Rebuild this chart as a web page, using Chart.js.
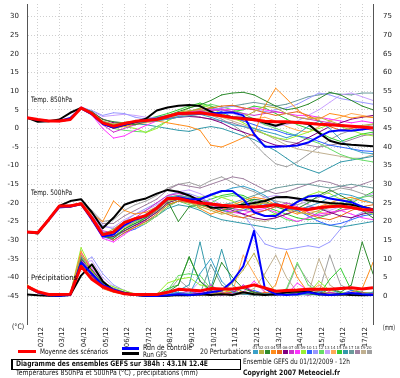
<!DOCTYPE html>
<html><head><meta charset="utf-8">
<script src="https://cdn.jsdelivr.net/npm/chart.js@4.4.1/dist/chart.umd.min.js"></script>
<style>
html,body{margin:0;padding:0;background:#fff;}
#wrap{position:relative;width:400px;height:378px;overflow:hidden;font-family:'DejaVu Sans',sans-serif;color:#000;}
canvas{position:absolute;left:0;top:0;}
.t{position:absolute;white-space:nowrap;font-size:7.5px;line-height:8px;transform-origin:0 50%;color:#111;}
.b{font-weight:bold;}
.sw{position:absolute;width:5px;height:4px;top:350px;}
.sn{position:absolute;font-size:4px;line-height:4px;top:345.5px;color:#333;white-space:nowrap;}
</style></head><body>
<div id="wrap">
<canvas id="c" width="400" height="350"></canvas>
<div class="t" style="left:31px;top:96px" data-w="41">Temp. 850hPa</div>
<div class="t" style="left:31px;top:188.5px" data-w="41">Temp. 500hPa</div>
<div class="t" style="left:31px;top:274px" data-w="46">Précipitations</div>
<div class="t" style="left:12px;top:323px" data-w="12">(°C)</div>
<div class="t" style="left:383px;top:324px" data-w="12">(mm)</div>
<div style="position:absolute;left:18px;top:350px;width:18px;height:3px;background:#f00"></div>
<div class="t" style="left:40px;top:347.5px" data-w="68">Moyenne des scénarios</div>
<div style="position:absolute;left:122px;top:347px;width:17px;height:3px;background:#00f"></div>
<div style="position:absolute;left:122px;top:352px;width:17px;height:3px;background:#000"></div>
<div class="t" style="left:143px;top:344px" data-w="49">Run de contrôle</div>
<div class="t" style="left:143px;top:351px" data-w="24">Run GFS</div>
<div class="t" style="left:200px;top:347.5px" data-w="51">20 Perturbations</div>
<div id="sw"></div>
<div style="position:absolute;left:11px;top:359px;width:227px;height:9px;border:1px solid #000;border-width:1px 1px 1px 2px"></div>
<div class="t b" style="left:16px;top:360px" data-w="192">Diagramme des ensembles GEFS sur 384h : 43.1N 12.4E</div>
<div class="t" style="left:16px;top:369px" data-w="182">Températures 850hPa et 500hPa (°C) , précipitations (mm)</div>
<div class="t" style="left:243px;top:358px" data-w="107">Ensemble GEFS du 01/12/2009 - 12h</div>
<div class="t b" style="left:243px;top:369px" data-w="97">Copyright 2007 Meteociel.fr</div>
</div>
<script>
// ---- DATA ----
const hours = [0,12,24,36,48,60,72,84,96,108,120,132,144,156,168,180,192,204,216,228,240,252,264,276,288,300,312,324,336,348,360,372,384];
const dayLabels = ['02/12','03/12','04/12','05/12','06/12','07/12','08/12','09/12','10/12','11/12','12/12','13/12','14/12','15/12','16/12','17/12'];
const leftTicks = [-45,-40,-35,-30,-25,-20,-15,-10,-5,0,5,10,15,20,25,30];
const rightTicks = [0,5,10,15,20,25,30,35,40,45,50,55,60,65,70,75];
const memberNames = ['01','02','03','04','05','06','07','08','09','10','11','12','13','14','15','16','17','18','19','20'];
const memberColors = ['#3aa0c8','#b8b040','#2e8b2e','#ff8c1a','#e86a1a','#800080','#cc33cc','#ff33ff','#99ee33','#3366ff','#9999ff','#66dd66','#c8a0ff','#ffaa55','#33cc33','#3399aa','#6a9a9a','#a080a0','#c0b090','#a0a0a0'];

// 850 hPa temperature (°C)
const t850Mean    = [2.9,2.4,2.0,2.0,2.4,5.5,4.0,1.5, 0.6,1.3,1.9,2.1,2.4,3.2,4.0,4.1,4.2,3.8,3.4,2.9,2.6,2.3,1.9,1.8,1.8,1.6,1.4,1.1,1.0,0.8,0.6,0.4,0.1];
const t850Control = [2.9,2.3,2.0,2.0,2.8,5.4,3.8,1.2, 0.2,1.0,1.8,2.2,2.6,3.3,3.9,4.0,4.0,4.0,4.2,4.3,3.5,-1.5,-4.9,-4.9,-4.8,-4.6,-3.8,-2.2,-0.8,-0.5,-0.6,-0.3,0.2];
const t850Gfs     = [2.9,1.8,1.9,2.4,4.2,5.5,4.0,1.4, 0.3,1.0,1.7,2.6,4.8,5.6,6.1,6.3,6.0,4.5,3.5,3.0,2.8,2.5,1.5,0.7,1.6,1.7,1.2,-1.2,-3.3,-4.1,-4.4,-4.6,-4.8];
const t850Members = [
 [2.9,2.4,2.0,1.9,2.6,5.4,4.2,1.8, 0.8,1.2,1.5,1.8,2.0,2.5,3.0,3.4,3.8,3.0,2.0,1.0,0.5,0.0,-0.8,-1.5,-2.5,-1.5,0.5,2.0,0.0,-3.0,-5.5,-6.5,-6.8],
 [2.9,2.3,2.1,2.0,2.4,5.3,4.3,2.0, 1.2,1.6,2.0,2.4,2.8,3.6,4.3,4.8,5.0,4.5,3.5,2.8,3.0,4.5,6.0,5.5,4.0,3.0,2.5,3.0,2.0,1.0,0.5,0.8,1.2],
 [2.9,2.3,2.0,2.1,2.6,5.6,4.5,2.4, 1.8,1.5,1.0,1.8,2.5,3.5,4.5,5.5,6.3,7.5,9.0,9.5,9.7,9.0,7.5,6.0,5.0,5.5,6.5,8.0,9.7,9.0,7.5,6.0,5.0],
 [2.9,2.3,2.0,2.0,2.4,5.4,4.0,1.5, 0.2,0.6,1.3,1.8,2.0,1.5,1.0,0.5,-0.5,-4.5,-5.0,-3.8,-2.5,-1.5,6.0,10.8,8.0,5.0,3.0,2.5,4.0,3.5,2.8,3.2,2.9],
 [2.9,2.2,1.9,1.8,2.3,5.2,3.8,1.2, 0.0,0.8,1.5,2.0,2.6,3.4,4.0,4.6,5.2,5.5,6.0,6.2,5.5,5.0,4.2,3.5,4.0,4.5,3.5,2.0,0.5,-0.5,0.0,0.5,0.3],
 [2.9,2.4,2.1,2.0,2.6,5.6,4.4,2.5, 1.5,1.6,1.8,2.0,2.3,2.6,3.0,3.2,3.0,2.5,1.5,0.0,-1.0,-2.0,-3.5,-4.5,-4.8,-4.0,-2.5,-1.0,0.5,1.5,2.5,3.0,3.5],
 [2.9,2.3,2.0,1.9,2.5,5.5,4.0,1.0, -1.0,0.0,1.0,1.8,2.5,3.2,3.8,4.2,4.5,4.8,5.0,4.5,4.0,3.5,4.0,4.5,4.0,3.0,2.5,2.0,1.5,1.0,0.5,0.0,-0.5],
 [2.9,2.2,1.9,1.8,2.3,5.7,3.6,0.0, -2.6,-2.0,-0.5,0.8,2.0,3.0,4.0,4.5,4.8,5.0,5.2,5.0,5.2,5.5,5.0,4.5,4.0,3.5,3.5,3.0,2.5,2.0,1.5,2.0,1.5],
 [2.9,2.3,2.0,2.0,2.4,5.4,4.0,1.8, 1.0,0.5,0.0,-1.1,0.0,2.0,4.0,5.5,6.5,5.5,4.0,3.0,1.5,0.0,-1.5,-2.5,-3.0,-2.0,-1.0,0.0,1.0,0.5,-0.5,-1.5,-2.0],
 [2.9,2.3,2.0,2.0,2.5,5.5,4.1,1.6, 0.5,1.0,1.7,2.3,3.0,3.5,3.8,4.0,4.5,5.5,4.5,3.0,2.0,1.0,0.0,-0.5,-1.5,-2.0,-2.5,-3.5,-4.5,-5.0,-5.5,-6.0,-6.2],
 [2.9,2.4,2.1,2.1,2.7,5.7,4.8,3.5, 4.2,4.0,3.0,2.5,2.2,2.8,3.5,4.0,4.5,5.0,5.5,6.0,5.5,5.0,4.5,5.0,5.5,6.5,8.0,9.5,9.0,8.0,7.5,7.0,6.5],
 [2.9,2.3,2.0,1.9,2.4,5.3,4.0,1.5, 0.0,-0.5,-0.8,-1.0,0.5,2.0,3.5,4.5,5.5,6.5,5.8,5.0,4.0,2.5,1.0,0.0,-1.0,-2.0,-3.0,-4.0,-5.5,-7.0,-8.0,-8.5,-9.0],
 [2.9,2.4,2.1,2.0,2.7,5.8,4.6,3.2, 3.5,3.8,3.5,3.0,2.8,3.0,3.5,4.2,5.0,5.5,5.0,4.0,3.0,2.0,1.0,0.5,1.0,2.0,3.5,5.0,7.0,9.0,9.5,8.5,7.5],
 [2.9,2.3,2.0,2.0,2.5,5.4,4.0,1.3, 0.0,0.5,1.0,1.5,2.0,2.5,3.0,3.5,3.8,3.5,3.0,2.5,2.0,2.5,3.0,2.0,0.5,-0.5,-1.0,0.5,2.0,3.0,4.0,3.5,3.0],
 [2.9,2.3,2.0,2.0,2.5,5.5,4.2,1.7, 1.0,1.5,2.0,2.5,3.2,4.0,5.0,6.0,6.8,6.0,5.0,4.5,5.0,6.0,5.5,4.0,2.5,1.0,0.0,-1.0,-2.5,-3.5,-2.5,-1.5,-1.0],
 [2.9,2.3,2.0,2.0,2.5,5.5,4.1,1.4, 0.3,0.8,1.2,1.0,0.5,0.0,-0.5,-0.8,0.0,0.5,0.0,-1.0,-2.0,-3.0,-4.5,-6.0,-8.0,-10.0,-11.0,-12.0,-10.5,-9.0,-8.5,-8.0,-7.5],
 [2.9,2.3,2.0,2.0,2.5,5.5,4.0,1.6, 0.6,1.0,1.5,2.0,2.5,3.0,3.5,4.0,4.5,5.0,5.5,6.0,6.5,7.0,6.5,6.0,6.5,7.5,8.5,9.0,9.5,9.2,9.0,9.5,9.5],
 [2.9,2.2,1.9,1.9,2.4,5.4,4.0,1.5, 0.4,1.0,1.5,2.0,2.5,3.0,3.2,3.5,3.0,2.5,2.0,1.5,0.5,-0.5,-1.5,-2.5,-3.5,-4.0,-4.5,-5.0,-4.5,-4.0,-3.0,-2.0,-1.5],
 [2.9,2.3,2.0,2.0,2.5,5.5,4.0,1.5, 0.5,1.0,1.3,1.6,2.0,2.5,3.2,4.0,4.5,4.0,3.0,2.0,1.0,0.0,-1.5,-3.0,-4.5,-5.5,-6.0,-6.5,-7.0,-7.5,-8.0,-8.0,-7.0],
 [2.9,2.3,2.0,2.0,2.5,5.5,4.1,1.6, 0.7,1.2,1.5,1.8,2.3,2.8,3.3,3.8,4.2,3.5,2.5,1.0,-1.0,-4.0,-7.0,-9.5,-10.3,-9.0,-7.0,-5.0,-3.0,-1.5,-0.5,0.5,1.0]
];

// 500 hPa temperature (°C)
const t500Mean    = [-27.8,-28.0,-24.5,-20.8,-20.8,-20.2,-24.0,-28.5, -27.8,-25.3,-24.2,-23.4,-21.4,-18.8,-18.8,-19.5,-20.0,-20.3,-20.6,-20.8,-21.0,-21.1,-20.9,-20.5,-21.1,-21.5,-21.8,-21.3,-21.0,-20.8,-21.2,-21.8,-21.8];
const t500Control = [-27.8,-28.0,-24.5,-21.0,-21.0,-20.3,-24.5,-29.0, -28.5,-26.0,-24.5,-23.5,-21.5,-19.0,-18.5,-19.0,-19.0,-17.8,-16.8,-16.8,-19.0,-22.5,-23.5,-23.5,-21.6,-19.7,-18.3,-18.0,-18.8,-19.3,-19.8,-21.0,-21.8];
const t500Gfs     = [-27.8,-28.2,-24.5,-20.8,-19.5,-19.0,-22.5,-26.8, -24.0,-20.5,-19.5,-18.8,-17.5,-16.5,-17.0,-18.0,-19.5,-21.3,-21.2,-20.9,-20.5,-20.0,-19.5,-18.5,-18.4,-18.8,-19.3,-19.7,-20.0,-20.2,-20.5,-21.0,-21.8];
const t500Members = [
 [-27.8,-28.0,-24.5,-21.0,-20.8,-20.5,-24.0,-28.0, -28.5,-26.0,-24.5,-23.0,-21.0,-18.5,-18.0,-18.5,-19.0,-18.0,-17.0,-16.0,-15.5,-16.5,-18.0,-20.0,-21.5,-22.0,-21.0,-20.0,-18.5,-17.5,-18.0,-19.0,-20.0],
 [-27.8,-28.1,-24.8,-21.2,-21.0,-20.5,-24.5,-28.5, -27.0,-25.0,-24.0,-23.5,-22.0,-19.5,-19.0,-20.0,-21.0,-22.0,-23.0,-22.5,-21.5,-20.5,-20.0,-20.5,-21.5,-22.5,-23.0,-22.0,-20.5,-20.0,-20.5,-21.0,-21.5],
 [-27.8,-28.0,-24.3,-20.8,-20.8,-20.2,-24.2,-29.0, -29.5,-27.0,-25.5,-24.0,-22.0,-19.5,-25.0,-21.0,-20.5,-21.0,-22.0,-21.5,-20.0,-19.0,-19.5,-21.0,-22.0,-21.5,-20.0,-18.0,-16.5,-18.0,-19.5,-22.0,-24.0],
 [-27.8,-28.0,-24.6,-21.0,-20.7,-20.0,-23.0,-25.0, -19.5,-22.0,-23.0,-22.5,-21.0,-18.5,-18.0,-19.0,-21.5,-23.0,-22.0,-20.5,-19.5,-18.5,-19.0,-20.5,-22.0,-23.0,-22.0,-21.0,-20.0,-19.0,-18.5,-19.5,-20.0],
 [-27.8,-27.9,-24.4,-20.9,-20.9,-20.4,-24.0,-28.5, -30.0,-28.0,-26.5,-25.0,-23.0,-20.5,-19.5,-20.0,-20.5,-21.5,-22.5,-23.5,-24.0,-23.0,-22.0,-21.0,-20.5,-21.5,-23.0,-24.0,-24.5,-23.5,-22.0,-21.0,-20.5],
 [-27.8,-28.0,-24.5,-21.0,-20.9,-20.4,-24.3,-28.8, -29.0,-27.5,-26.0,-24.5,-22.5,-20.0,-19.0,-19.5,-20.0,-20.5,-21.0,-22.0,-23.0,-24.0,-24.5,-24.0,-23.0,-22.0,-21.0,-21.5,-22.5,-23.5,-24.0,-23.0,-22.5],
 [-27.8,-28.0,-24.5,-20.8,-20.6,-20.0,-23.5,-27.5, -28.0,-26.0,-24.0,-22.0,-20.0,-18.0,-17.5,-18.0,-19.0,-20.0,-21.0,-21.5,-22.0,-22.5,-22.0,-21.0,-20.0,-21.0,-22.5,-23.5,-23.0,-22.0,-21.5,-22.0,-22.5],
 [-27.8,-28.1,-24.7,-21.1,-20.9,-20.3,-24.5,-29.5, -30.5,-28.5,-26.5,-24.5,-22.0,-19.5,-18.5,-19.0,-19.5,-20.5,-21.5,-22.5,-23.0,-22.0,-21.5,-22.5,-24.0,-25.0,-24.0,-23.0,-22.5,-22.0,-23.0,-24.0,-24.5],
 [-27.8,-27.9,-24.3,-20.9,-20.8,-20.3,-24.0,-28.0, -29.0,-27.5,-26.5,-25.5,-23.5,-21.0,-19.5,-19.0,-18.5,-18.0,-18.5,-19.5,-21.0,-22.5,-23.5,-23.0,-21.5,-19.5,-18.0,-17.0,-17.5,-19.0,-20.5,-22.0,-23.0],
 [-27.8,-28.0,-24.5,-21.0,-20.8,-20.2,-24.2,-29.0, -30.0,-28.0,-27.0,-25.5,-23.5,-21.0,-19.5,-19.5,-20.0,-21.0,-22.0,-22.5,-22.0,-21.0,-20.5,-20.0,-21.0,-22.0,-23.5,-25.0,-26.0,-25.5,-24.5,-23.5,-23.0],
 [-27.8,-28.2,-25.0,-21.5,-21.0,-20.5,-23.0,-26.0, -27.0,-25.0,-23.0,-21.5,-20.0,-18.0,-17.0,-17.5,-18.5,-20.0,-21.0,-21.5,-23.0,-27.0,-31.0,-32.0,-32.5,-32.0,-31.5,-32.0,-30.5,-27.0,-24.0,-22.5,-22.0],
 [-27.8,-28.0,-24.4,-20.9,-20.8,-20.2,-24.0,-28.5, -29.5,-27.0,-25.0,-24.0,-22.5,-20.5,-19.5,-20.5,-21.5,-20.0,-18.5,-18.0,-18.5,-20.0,-21.5,-23.0,-24.5,-25.0,-24.0,-22.5,-21.0,-20.0,-19.0,-18.5,-18.0],
 [-27.8,-28.1,-24.8,-21.3,-21.0,-20.6,-23.5,-26.5, -26.5,-24.5,-23.0,-22.0,-20.5,-18.5,-17.0,-16.5,-17.5,-19.0,-20.5,-21.0,-20.5,-19.5,-18.5,-18.0,-18.5,-19.0,-20.5,-21.5,-22.0,-21.0,-19.5,-18.5,-17.5],
 [-27.8,-28.0,-24.5,-21.0,-20.8,-20.3,-24.0,-28.0, -28.5,-26.5,-25.0,-23.5,-21.5,-19.0,-18.0,-18.5,-19.5,-20.5,-21.0,-21.5,-21.0,-20.5,-20.0,-20.5,-21.0,-21.5,-22.0,-22.5,-23.0,-22.0,-21.0,-21.5,-22.0],
 [-27.8,-27.9,-24.4,-20.8,-20.7,-20.1,-24.1,-28.3, -29.0,-27.0,-25.5,-24.5,-22.5,-20.0,-19.0,-19.5,-20.0,-19.0,-18.0,-17.5,-18.0,-19.5,-21.0,-22.0,-23.0,-24.0,-24.5,-24.0,-23.0,-21.5,-20.0,-18.5,-17.0],
 [-27.8,-28.0,-24.6,-21.1,-20.9,-20.4,-24.3,-28.8, -29.5,-27.5,-26.0,-25.0,-23.5,-21.5,-20.5,-21.0,-22.0,-23.5,-24.5,-25.0,-25.5,-26.0,-26.5,-27.0,-26.5,-26.0,-25.5,-25.5,-26.0,-26.5,-26.0,-25.5,-25.0],
 [-27.8,-28.0,-24.5,-21.0,-20.8,-20.3,-24.0,-28.0, -28.5,-26.5,-25.0,-23.5,-21.5,-19.0,-18.0,-18.5,-19.5,-20.0,-20.5,-20.0,-19.0,-18.0,-17.0,-16.0,-15.5,-15.0,-15.0,-15.5,-16.0,-15.5,-15.0,-15.5,-16.0],
 [-27.8,-28.0,-24.7,-21.0,-20.7,-20.0,-22.5,-25.5, -25.5,-23.5,-22.0,-20.5,-19.0,-16.5,-15.0,-15.5,-16.0,-15.0,-14.0,-13.0,-13.5,-15.0,-16.5,-17.5,-17.0,-16.0,-15.0,-14.0,-14.5,-15.5,-16.0,-15.0,-14.0],
 [-27.8,-28.0,-24.5,-21.0,-20.9,-20.4,-24.2,-28.5, -29.0,-27.0,-25.5,-24.0,-22.0,-19.5,-18.5,-19.0,-20.0,-21.0,-22.0,-23.0,-24.0,-24.5,-25.0,-24.0,-23.0,-22.0,-21.5,-21.0,-20.5,-21.0,-21.5,-22.0,-22.5],
 [-27.8,-28.0,-24.3,-20.7,-20.6,-20.0,-22.0,-25.0, -24.5,-22.0,-20.5,-19.5,-18.0,-16.0,-15.0,-14.5,-15.5,-14.0,-13.0,-14.5,-16.0,-17.0,-18.5,-19.5,-20.0,-20.5,-19.5,-18.5,-17.0,-16.0,-16.5,-17.5,-18.5]
];

// Precipitation (mm)
const prMean    = [2.6,1.2,0.4,0.4,0.5,8.0,4.5,2.5, 1.4,0.6,0.4,0.4,0.4,1.0,1.8,1.6,1.4,2.0,1.9,1.9,2.3,3.0,2.2,1.3,1.5,1.6,1.8,1.8,1.8,2.0,2.2,1.9,2.2];
const prControl = [2.6,1.0,0.2,0.1,0.3,9.0,6.0,3.0, 1.8,0.8,0.3,0.1,0.0,0.2,0.5,0.3,0.5,1.0,1.5,4.0,8.0,17.5,2.0,0.5,0.3,0.5,1.0,0.5,0.3,0.5,0.8,0.5,0.3];
const prGfs     = [0.4,0.2,0.1,0.1,0.3,5.5,8.5,4.0, 1.5,0.8,0.3,0.1,0.0,0.1,0.3,0.2,0.5,0.3,0.5,0.3,1.0,0.5,0.3,0.5,1.0,1.3,1.2,0.5,0.3,0.5,0.3,0.2,0.3];
const prMembers = [
 [2.5,1.0,0.2,0.1,0.3,9.0,5.0,2.5, 1.5,0.8,0.3,0.1,0.1,0.3,1.0,0.5,6.0,10.0,4.0,1.0,0.5,0.3,0.5,1.0,0.5,0.3,0.5,1.0,2.0,0.5,0.3,0.5,1.0],
 [3.0,1.2,0.3,0.2,0.5,11.0,6.0,3.0, 2.0,1.0,0.3,0.1,0.0,0.0,0.3,0.5,0.2,0.5,1.0,3.5,7.0,11.5,5.0,1.0,0.5,0.3,0.5,1.5,0.5,0.3,0.5,0.8,1.0],
 [2.8,1.0,0.2,0.1,0.4,10.0,7.0,3.5, 2.0,1.0,0.5,0.1,0.0,1.0,3.0,10.5,4.0,1.5,9.0,5.0,2.0,1.0,0.5,0.3,0.5,1.0,0.5,0.3,2.0,1.0,3.0,14.5,6.0],
 [3.0,1.3,0.4,0.2,0.5,12.0,6.5,3.0, 1.5,0.5,0.2,0.0,0.0,0.2,0.5,0.3,0.5,1.0,0.5,2.0,1.0,0.5,0.3,3.0,12.0,5.0,1.0,0.5,0.3,0.5,1.0,2.0,9.0],
 [2.2,0.8,0.1,0.1,0.3,8.0,5.0,2.0, 1.0,0.5,0.2,0.0,0.0,0.1,0.3,0.5,0.5,0.3,0.5,1.0,0.5,0.3,1.0,0.5,0.3,0.5,1.5,0.5,0.3,0.5,0.8,0.5,0.3],
 [2.5,1.0,0.2,0.1,0.4,9.5,5.5,2.5, 1.2,0.6,0.2,0.1,0.0,0.2,0.5,0.3,0.5,1.5,0.5,1.0,2.5,1.0,0.5,0.3,0.5,1.0,2.0,1.0,0.5,0.3,0.5,1.0,0.5],
 [2.6,1.1,0.3,0.2,0.4,10.0,6.0,3.0, 1.5,0.5,0.2,0.1,0.0,0.3,0.5,1.5,0.5,3.0,1.0,0.5,3.0,1.0,0.5,0.3,1.0,0.5,0.3,0.5,1.0,0.5,0.3,0.5,0.8],
 [2.4,0.9,0.2,0.1,0.3,11.5,7.5,3.5, 2.0,0.8,0.3,0.1,0.0,0.2,0.5,0.3,1.0,0.5,0.3,0.5,1.0,4.0,1.0,0.5,0.3,3.5,1.5,0.5,0.3,0.5,1.0,0.5,0.3],
 [2.8,1.2,0.3,0.2,0.5,13.0,7.0,3.5, 2.5,1.5,0.5,0.2,0.5,3.5,4.5,5.0,3.0,2.5,1.5,1.0,0.5,1.0,0.5,0.3,0.5,1.0,0.5,4.0,1.5,1.0,0.5,0.8,1.0],
 [2.5,1.0,0.2,0.1,0.3,10.5,6.0,3.0, 1.5,0.5,0.2,0.0,0.0,0.3,1.0,0.5,1.5,0.5,0.3,1.0,0.5,1.5,0.5,0.3,0.5,0.3,1.0,0.5,0.3,0.5,1.5,0.5,0.3],
 [2.3,0.9,0.2,0.1,0.3,8.5,10.5,6.0, 3.0,1.5,0.5,0.2,0.0,0.5,1.0,0.5,0.3,1.0,0.5,1.5,0.5,1.0,0.5,0.3,0.5,1.0,0.5,0.3,0.5,1.0,0.5,0.3,0.5],
 [2.6,1.0,0.2,0.1,0.4,10.0,6.5,3.0, 2.0,1.0,0.4,0.2,0.5,1.5,5.5,6.0,5.5,2.0,1.0,0.5,1.0,0.5,0.3,0.5,2.0,9.0,3.0,1.0,0.5,0.3,0.5,1.0,0.5],
 [2.4,1.0,0.2,0.1,0.3,9.0,9.5,5.0, 2.5,1.0,0.3,0.1,0.0,0.3,0.5,1.0,4.0,2.0,0.5,1.0,0.5,1.5,0.5,0.3,0.5,0.3,1.0,0.5,0.3,0.5,1.0,0.5,0.3],
 [2.7,1.1,0.3,0.2,0.4,10.5,6.0,3.0, 1.5,0.5,0.2,0.1,0.0,0.2,0.5,0.3,1.0,0.5,2.0,1.0,11.0,6.0,1.0,0.5,0.3,0.5,1.0,3.0,1.0,0.5,0.3,1.0,0.5],
 [2.9,1.2,0.3,0.2,0.5,11.0,7.0,3.5, 2.0,1.0,0.4,0.2,0.3,2.0,3.0,10.5,4.0,1.0,0.5,0.3,2.5,1.0,0.5,0.3,0.5,1.0,0.5,0.3,4.5,7.5,1.5,1.0,0.8],
 [2.5,1.0,0.2,0.1,0.3,9.5,6.0,2.5, 1.5,0.5,0.2,0.1,0.0,0.5,1.5,3.0,14.5,2.0,12.5,3.0,1.0,0.5,0.3,0.5,1.0,0.5,0.3,0.5,1.0,0.5,0.3,0.5,0.3],
 [2.5,1.0,0.3,0.1,0.4,10.0,6.0,3.0, 1.5,0.5,0.2,0.1,0.0,0.3,0.5,1.0,0.5,8.5,3.0,1.0,0.5,0.3,0.5,1.0,0.5,0.3,0.5,1.0,0.5,0.3,0.5,1.0,0.5],
 [2.3,0.9,0.2,0.1,0.3,8.5,5.5,2.5, 1.2,0.5,0.2,0.1,0.0,0.2,0.5,0.3,0.5,1.0,0.5,0.3,0.5,1.0,0.5,0.3,1.0,0.5,2.0,1.0,0.5,0.3,0.5,1.0,0.5],
 [2.6,1.0,0.2,0.1,0.4,9.5,5.5,2.5, 1.3,0.6,0.2,0.1,0.0,0.3,1.0,0.5,0.3,0.5,1.0,0.5,1.0,2.0,6.0,11.0,5.0,1.0,0.5,10.0,3.0,1.0,0.5,0.3,0.5],
 [2.8,1.1,0.3,0.2,0.4,10.5,6.5,3.0, 2.0,1.0,0.4,0.2,0.3,1.0,4.5,2.0,1.0,0.5,0.3,0.5,1.0,0.5,0.3,0.5,1.5,8.5,4.0,1.0,11.0,3.0,1.5,1.0,0.5]
];

// ---- sanity check ----
const checkList = {t850Mean,t850Control,t850Gfs,t500Mean,t500Control,t500Gfs,prMean,prControl,prGfs};
t850Members.forEach((a,i)=>checkList['t850_'+memberNames[i]]=a);
t500Members.forEach((a,i)=>checkList['t500_'+memberNames[i]]=a);
prMembers.forEach((a,i)=>checkList['pr_'+memberNames[i]]=a);
for (const k in checkList) if (checkList[k].length !== hours.length) throw new Error(k+' has '+checkList[k].length+' values');

// ---- chart ----
const FONT = {family:"'DejaVu Sans', sans-serif", size:7};
const datasets = [];
function addLine(values, axis, color, width, order, pts) {
  datasets.push({
    data: values.map((v,i)=>({x:hours[i], y:v})),
    yAxisID: axis, borderColor: color, backgroundColor: color,
    borderWidth: width, pointRadius: pts ? 0.7 : 0, pointStyle:'rect', pointBorderWidth:0,
    tension: 0, fill:false, order: order, borderJoinStyle:'round'
  });
}
addLine(t850Mean,'y','#ff0000',3,0,false);
addLine(t500Mean,'y','#ff0000',3,0,false);
addLine(prMean,'y2','#ff0000',3,0,false);
addLine(t850Control,'y','#0000ff',2,1,false);
addLine(t500Control,'y','#0000ff',2,1,false);
addLine(prControl,'y2','#0000ff',2,1,false);
addLine(t850Gfs,'y','#000000',2,2,false);
addLine(t500Gfs,'y','#000000',2,2,false);
addLine(prGfs,'y2','#000000',2,2,false);
for (let m=0;m<memberNames.length;m++){
  addLine(t850Members[m],'y',memberColors[m],1,3,true);
  addLine(t500Members[m],'y',memberColors[m],1,3,true);
  addLine(prMembers[m],'y2',memberColors[m],1,3,true);
}
function zeroPad(s){ s.paddingTop=0; s.paddingBottom=0; s.paddingLeft=0; s.paddingRight=0; }

new Chart(document.getElementById('c'), {
  type:'line',
  data:{datasets},
  options:{
    responsive:false, animation:false, devicePixelRatio:1,
    layout:{padding:0},
    events:[],
    plugins:{legend:{display:false}, tooltip:{enabled:false}},
    scales:{
      x:{type:'linear', min:0, max:384, position:'bottom',
        afterBuildTicks:s=>{ s.ticks = dayLabels.map((d,i)=>({value:12+24*i})); },
        ticks:{autoSkip:false, minRotation:90, maxRotation:90, padding:3, labelOffset:3, font:FONT, color:'#222',
               callback:(v,i)=>dayLabels[i]},
        grid:{color:'#cfcfcf', drawTicks:false, lineWidth:1},
        border:{display:false, dash:[1,2]},
        afterFit:s=>{ s.height=26; zeroPad(s); }},
      y:{type:'linear', min:-52.5, max:33.4, position:'left',
        afterBuildTicks:s=>{ s.ticks = leftTicks.map(v=>({value:v})); },
        ticks:{padding:8, font:FONT, color:'#222'},
        grid:{color:'#cfcfcf', drawTicks:false, lineWidth:1},
        border:{display:true, color:'#555', width:1, dash:[1,2]},
        afterFit:s=>{ s.width=27; zeroPad(s); }},
      y2:{type:'linear', min:-7.5, max:78.4, position:'right',
        afterBuildTicks:s=>{ s.ticks = rightTicks.map(v=>({value:v})); },
        ticks:{padding:10, font:FONT, color:'#222'},
        grid:{display:false, drawTicks:false},
        border:{display:true, color:'#555', width:1},
        afterFit:s=>{ s.width=27; zeroPad(s); }}
    }
  }
});

// legend swatches
const sw = document.getElementById('sw');
memberNames.forEach((n,i)=>{
  const x = 253 + i*6;
  const d = document.createElement('div'); d.className='sw'; d.style.left=x+'px'; d.style.background=memberColors[i]; sw.appendChild(d);
  const t = document.createElement('div'); t.className='sn'; t.style.left=(x-0.5)+'px'; t.textContent=n; sw.appendChild(t);
});
// fit text widths
document.querySelectorAll('.t[data-w]').forEach(el=>{
  const w = el.getBoundingClientRect().width;
  if (w>0) el.style.transform = 'scaleX('+(parseFloat(el.dataset.w)/w)+')';
});
</script>
</body></html>
